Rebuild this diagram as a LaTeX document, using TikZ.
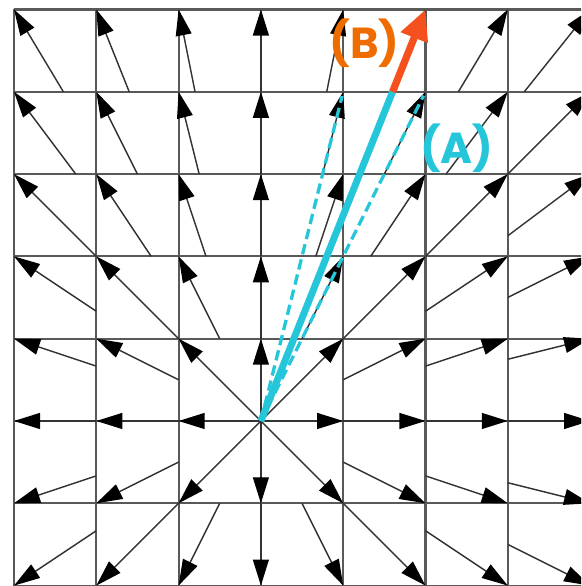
\documentclass[tikz,border=0pt]{standalone}
\usepackage{fontspec}
\setmainfont{Poppins}
\usetikzlibrary{arrows.meta}
\definecolor{cyanv}{HTML}{26C6DA}
\definecolor{orangev}{HTML}{F4511E}
\definecolor{orangel}{HTML}{EF6C00}
\begin{document}
\begin{tikzpicture}[
  gridline/.style={draw=black!65, line width=0.7pt},
  fieldarrow/.style={draw=black!80, line width=0.5pt, -{Triangle[length=9pt,width=5.5pt,color=black]}},
  cyandash/.style={draw=cyanv, line width=1.15pt, dash pattern=on 3.6pt off 1.8pt, shorten >=1.5pt},
  cyansolid/.style={draw=cyanv, line width=2.4pt},
  orangearrow/.style={draw=orangev, line width=2.5pt, -{Triangle[length=10.5pt,width=9.5pt]}},
  lbl/.style={font=\bfseries\fontsize{15}{17}\selectfont, inner sep=0pt}
]
\useasboundingbox (-3.17,-2.005) rectangle (3.89,5.115);
\clip (-3.17,-2.005) rectangle (3.89,5.115);
\draw[gridline] (-3,-2) grid (4,5);
\foreach \i in {-3,...,4}{
  \foreach \j in {-2,...,5}{
    \pgfmathsetmacro{\m}{max(abs(\i),abs(\j))}
    \ifdim\m pt>0pt
      \draw[fieldarrow] ({\i-\i/\m},{\j-\j/\m}) -- (\i,\j);
    \fi
  }
}
\coordinate (O) at (0,0);
\coordinate (P14) at (1,4);
\coordinate (P24) at (2,4);
\coordinate (Q) at (1.6,4);
\coordinate (P25) at (2,5);
\draw[cyandash] (O) -- (P14);
\draw[cyandash] (O) -- (P24);
\draw[cyansolid] (O) -- (Q);
\draw[orangearrow] (Q) -- (P25);
\node[lbl, text=orangel] (labB) at (1.26,4.59) {(B)};
\node[lbl, text=cyanv] (labA) at (2.38,3.32) {(A)};
\end{tikzpicture}
\end{document}
